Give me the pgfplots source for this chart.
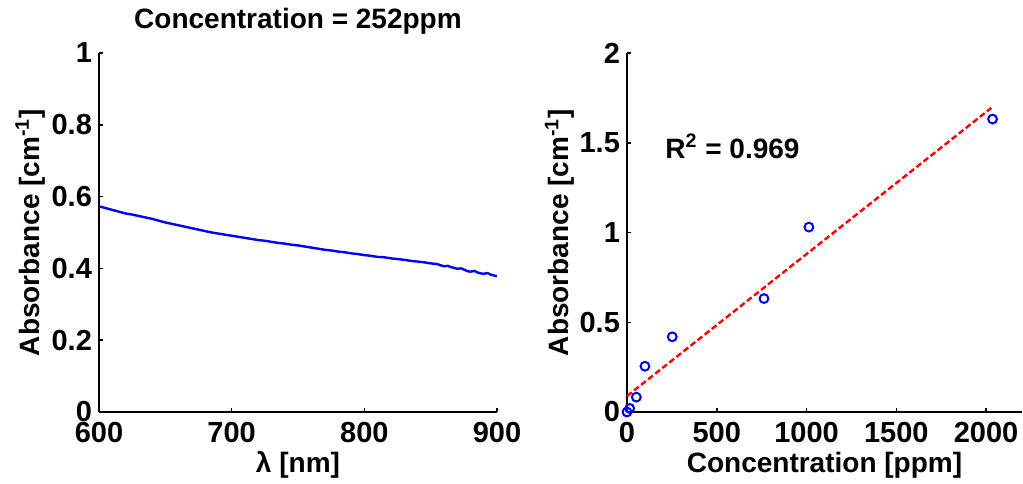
\documentclass[border=0pt]{standalone}
\usepackage{pgfplots}
\pgfplotsset{compat=1.18}
\usepackage{fontspec}
\setmainfont{Liberation Sans}
\definecolor{mblue}{RGB}{0,0,255}
\definecolor{mred}{RGB}{255,0,0}
\pgfplotsset{
  mstyle/.style={
    scale only axis,
    height=179.5pt,
    axis x line*=bottom,
    axis y line*=left,
    axis line style={-, line width=0.75pt, black},
    tick style={black, line width=0.75pt},
    major tick length=2pt,
    tick align=inside,
    ticklabel style={font=\fontsize{14.5}{16}\selectfont\bfseries},
    xticklabel style={yshift=-1.5pt},
    label style={font=\fontsize{14}{16}\selectfont\bfseries},
    /pgf/number format/assume math mode=true,
    /pgf/number format/1000 sep={},
    ylabel style={anchor=center},
    xlabel style={anchor=center},
  }
}
\begin{document}
\begin{tikzpicture}
\useasboundingbox (-49.5pt,-35.5pt) rectangle (462pt,206pt);
\begin{axis}[mstyle,
  at={(0pt,0pt)}, anchor=south west,
  width=199pt,
  xmin=600, xmax=900, ymin=0, ymax=1,
  xtick={600,700,800,900},
  ytick={0,0.2,0.4,0.6,0.8,1},
  yticklabels={0,0.2,0.4,0.6,0.8,1},
  title={Concentration = 252ppm},
  title style={font=\fontsize{14}{16}\selectfont\bfseries, at={(axis description cs:0.5,1)}, anchor=south, yshift=0pt},
  xlabel={λ [nm]},
  ylabel={Absorbance [cm\textsuperscript{-1}]},
  xlabel style={at={(axis description cs:0.5,-0.147)}},
  ylabel style={at={(axis description cs:-0.173,0.5)}},
]
\addplot[mblue, line width=1.2pt] coordinates {
(600,0.573) (605,0.568) (610,0.563) (615,0.558) (620,0.553) (625,0.550) (630,0.546)
(635,0.542) (640,0.538) (645,0.533) (650,0.528) (655,0.524) (660,0.520) (665,0.516)
(670,0.512) (675,0.508) (680,0.504) (685,0.500) (690,0.497) (695,0.494) (700,0.491)
(705,0.488) (710,0.485) (715,0.482) (720,0.479) (725,0.477) (730,0.474) (735,0.471)
(740,0.469) (745,0.466) (750,0.464) (755,0.461) (760,0.458) (765,0.455) (770,0.452)
(775,0.450) (780,0.447) (785,0.445) (790,0.442) (795,0.440) (800,0.437) (805,0.435)
(810,0.432) (815,0.431) (820,0.428) (825,0.426) (830,0.424) (835,0.421) (840,0.419)
(845,0.417) (850,0.414) (855,0.412) (858,0.408) (860,0.406) (863,0.407) (865,0.404)
(868,0.401) (870,0.399) (873,0.400) (875,0.397) (878,0.392) (880,0.391) (883,0.393)
(885,0.389) (888,0.386) (890,0.385) (893,0.387) (895,0.383) (898,0.380) (900,0.378)
};
\end{axis}
\begin{axis}[mstyle,
  at={(264pt,0pt)}, anchor=south west,
  width=197.5pt,
  xmin=0, xmax=2200, ymin=0, ymax=2,
  xtick={0,500,1000,1500,2000},
  ytick={0,0.5,1,1.5,2},
  yticklabels={0,0.5,1,1.5,2},
  xlabel={Concentration [ppm]},
  ylabel={Absorbance [cm\textsuperscript{-1}]},
  xlabel style={at={(axis description cs:0.5,-0.147)}},
  ylabel style={at={(axis description cs:-0.17,0.5)}},
  clip=false,
]
\addplot[mred, line width=1.2pt, dash pattern=on 3pt off 1.5pt] coordinates {(0,0.089) (2029,1.694)};
\addplot[only marks, mark=o, mark size=2.2pt, mark options={mblue, line width=1pt}] coordinates {
(0,0.000) (15,0.020) (52,0.083) (100,0.255) (252,0.419) (763,0.632) (1013,1.030) (2036,1.632)
};
\node[anchor=west, font=\fontsize{14}{16}\selectfont\bfseries] at (axis cs:175,1.48) {R\textsuperscript{2} = 0.969};
\end{axis}
\end{tikzpicture}
\end{document}
